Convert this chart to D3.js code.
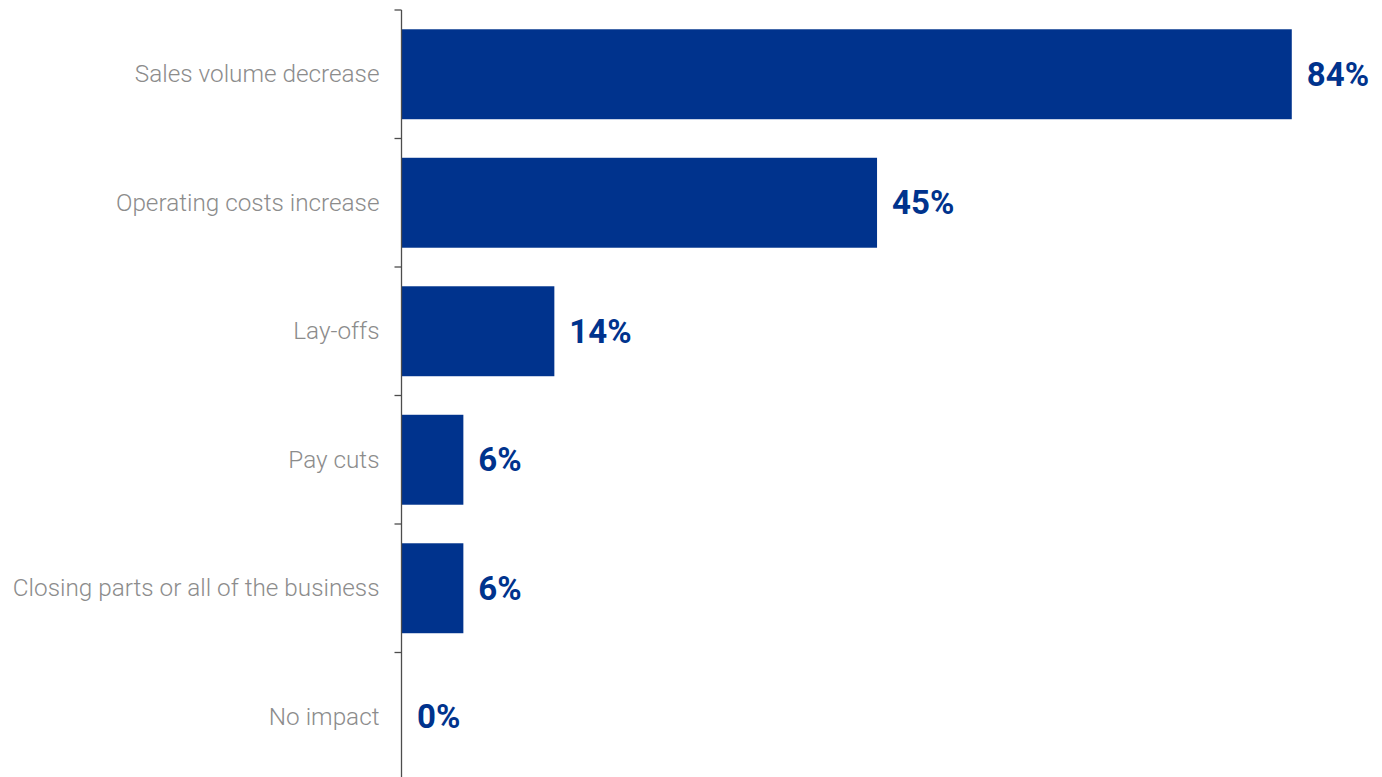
<!DOCTYPE html>
<html>
<head>
<meta charset="utf-8">
<script src="https://cdn.jsdelivr.net/npm/d3@7"></script>
<style>
  html, body { margin: 0; padding: 0; background: #ffffff; }
  svg { display: block; }
</style>
</head>
<body>
<svg id="chart" width="1382" height="777"></svg>
<script>
const categories = [
  "Sales volume decrease",
  "Operating costs increase",
  "Lay-offs",
  "Pay cuts",
  "Closing parts or all of the business",
  "No impact"
];
const values = [84.1, 44.9, 14.4, 5.8, 5.8, 0];
const valueLabels = ["84%", "45%", "14%", "6%", "6%", "0%"];

const svg = d3.select("#chart");
const axisX = 401.5;

const y = d3.scaleBand()
  .domain(categories)
  .range([10, 781])
  .paddingInner(0.3)
  .paddingOuter(0.15);

const x = d3.scaleLinear()
  .domain([0, 100])
  .range([402, 1460]);

// bars
svg.selectAll("rect.bar")
  .data(categories)
  .join("rect")
  .attr("class", "bar")
  .attr("x", x(0))
  .attr("y", d => y(d))
  .attr("width", (d, i) => x(values[i]) - x(0))
  .attr("height", y.bandwidth())
  .attr("fill", "#00338D");

// value labels
svg.selectAll("text.val")
  .data(categories)
  .join("text")
  .attr("class", "val")
  .attr("x", (d, i) => x(values[i]) + 15)
  .attr("y", d => y(d) + y.bandwidth() / 2)
  .attr("dy", "0.35em")
  .attr("font-family", "Roboto, 'Noto Sans', sans-serif")
  .attr("font-weight", 700)
  .attr("font-size", "33px")
  .attr("fill", "#00338D")
  .text((d, i) => valueLabels[i]);

// axis line
svg.append("line")
  .attr("x1", axisX).attr("x2", axisX)
  .attr("y1", 10).attr("y2", 781)
  .attr("stroke", "#4d4d4d")
  .attr("stroke-width", 1.3);

// ticks at band boundaries
const boundaries = categories.map(c => y(c) - y.step() * y.paddingOuter());
svg.selectAll("line.tick")
  .data(boundaries)
  .join("line")
  .attr("class", "tick")
  .attr("x1", axisX - 7).attr("x2", axisX)
  .attr("y1", d => d).attr("y2", d => d)
  .attr("stroke", "#4d4d4d")
  .attr("stroke-width", 1.3);

// category labels
svg.selectAll("text.cat")
  .data(categories)
  .join("text")
  .attr("class", "cat")
  .attr("x", axisX - 22)
  .attr("y", d => y(d) + y.bandwidth() / 2)
  .attr("dy", "0.33em")
  .attr("text-anchor", "end")
  .attr("font-family", "Roboto, 'Noto Sans', sans-serif")
  .attr("font-weight", 300)
  .attr("font-size", "24.3px")
  .attr("fill", "#8c8c8c")
  .text(d => d);
</script>
</body>
</html>
